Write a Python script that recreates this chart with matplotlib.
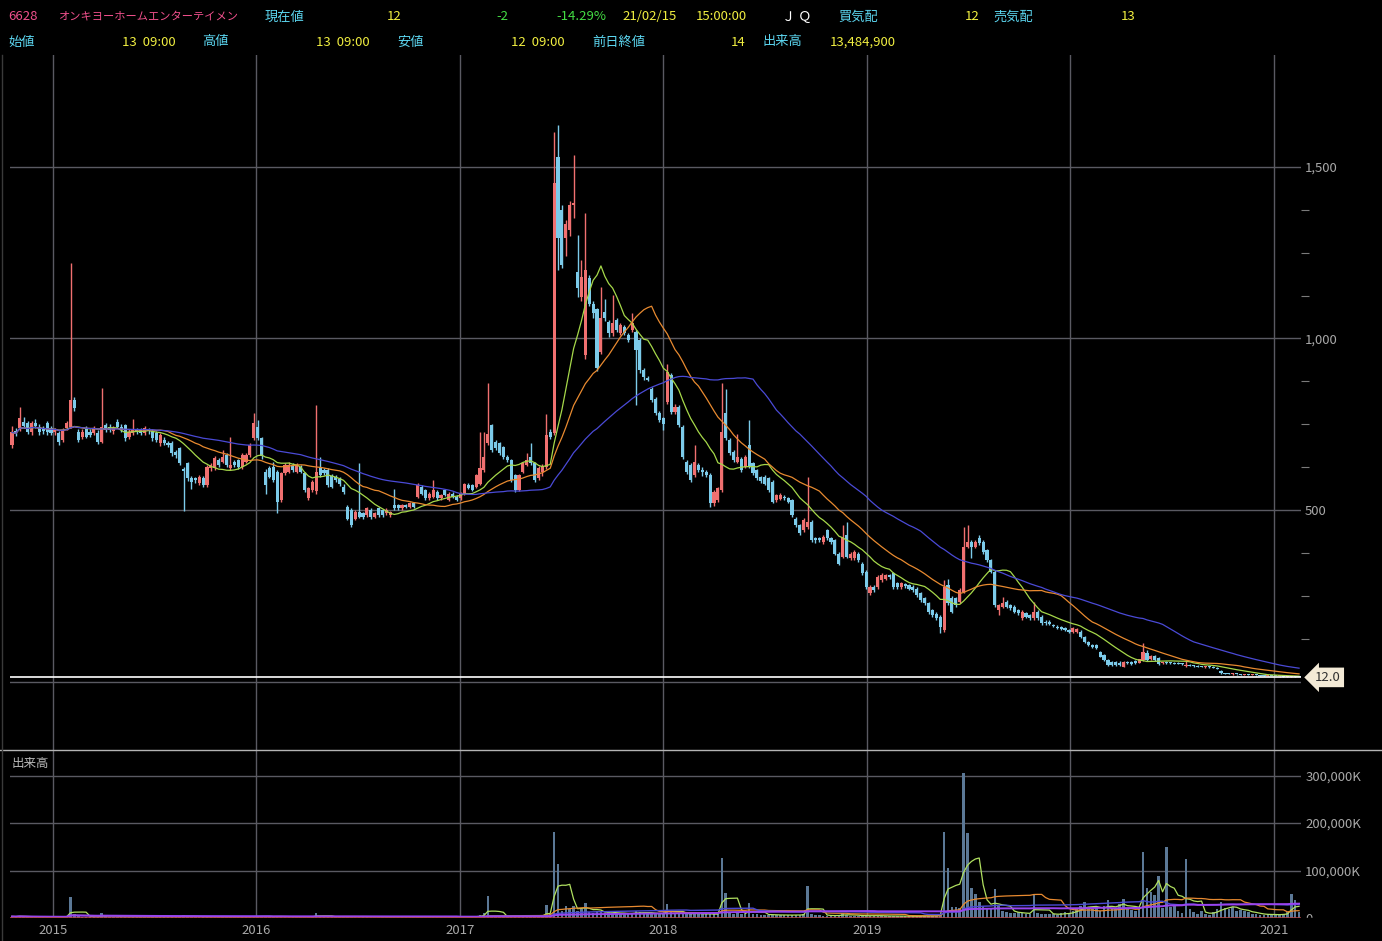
import matplotlib
matplotlib.use('Agg')
import matplotlib.pyplot as plt
import matplotlib.transforms as mtransforms
from matplotlib.patches import Rectangle
from matplotlib.lines import Line2D
import numpy as np
import pandas as pd

plt.rcParams['font.family'] = ['Noto Sans CJK JP', 'DejaVu Sans']

# weekly candles, first week 2014-10-20, last week 2021-02-15
weeks = pd.date_range('2014-10-20', periods=331, freq='W-MON')

opens = [
    690, 729, 738, 758, 753, 728, 755, 743, 738, 753,
    738, 726, 724, 704, 738, 743, 821, 728, 714, 738,
    728, 724, 724, 699, 748, 743, 729, 758, 743, 748,
    714, 724, 733, 733, 724, 733, 729, 724, 694, 704,
    695, 694, 670, 680, 620, 636, 592, 592, 578, 592,
    573, 622, 622, 646, 641, 660, 622, 641, 646, 626,
    641, 660, 709, 743, 709, 612, 622, 626, 612, 529,
    607, 612, 631, 612, 626, 607, 534, 558, 554, 626,
    617, 617, 600, 597, 590, 568, 509, 500, 475, 495,
    490, 485, 500, 480, 505, 500, 490, 485, 514, 514,
    505, 514, 509, 519, 538, 568, 558, 534, 539, 553,
    534, 558, 529, 548, 539, 534, 548, 573, 573, 568,
    577, 616, 694, 748, 699, 694, 684, 655, 645, 602,
    558, 611, 631, 655, 636, 592, 611, 626, 728, 724,
    1530, 1374, 1292, 1316, 1389, 1195, 1122, 952, 1175, 1102,
    1085, 961, 1078, 1049, 1015, 1054, 1015, 1034, 1010, 1025,
    1020, 995, 908, 884, 854, 825, 782, 767, 816, 893,
    786, 801, 743, 640, 631, 602, 631, 616, 612, 602,
    519, 529, 558, 782, 704, 670, 641, 650, 626, 689,
    636, 616, 595, 597, 592, 582, 529, 533, 539, 534,
    529, 475, 456, 441, 451, 466, 417, 417, 407, 441,
    417, 412, 373, 364, 427, 359, 359, 373, 344, 320,
    257, 276, 276, 296, 300, 310, 315, 286, 276, 284,
    281, 276, 271, 257, 242, 228, 208, 198, 189, 150,
    281, 242, 242, 233, 262, 393, 408, 393, 417, 408,
    383, 354, 320, 208, 218, 233, 223, 218, 208, 184,
    199, 194, 184, 204, 189, 174, 174, 165, 160, 160,
    155, 150, 145, 145, 145, 131, 116, 106, 106, 87,
    77, 63, 58, 58, 55, 43, 58, 58, 61, 55,
    63, 82, 65, 75, 68, 53, 56, 55, 54, 53,
    52, 44, 48, 46, 45, 44, 43, 44, 42, 40,
    32, 24, 23, 22, 22, 21, 20, 21, 19, 19,
    18, 17, 16, 17, 16, 15, 15, 14, 14, 16,
    13,
]
highs = [
    745, 740, 801, 770, 760, 760, 765, 750, 745, 760,
    745, 740, 730, 740, 760, 1219, 830, 735, 735, 745,
    735, 745, 732, 855, 755, 750, 745, 764, 750, 752,
    735, 764, 740, 740, 745, 740, 735, 730, 725, 712,
    700, 700, 676, 685, 625, 640, 600, 597, 602, 598,
    630, 638, 656, 652, 675, 665, 714, 646, 650, 665,
    666, 695, 782, 762, 714, 620, 628, 641, 616, 612,
    636, 641, 636, 636, 631, 612, 568, 588, 806, 655,
    622, 622, 605, 602, 596, 575, 515, 505, 500, 636,
    495, 510, 505, 495, 510, 504, 505, 498, 560, 518,
    518, 518, 522, 524, 578, 572, 562, 552, 587, 557,
    547, 562, 552, 553, 543, 552, 580, 578, 577, 605,
    728, 728, 869, 752, 703, 698, 688, 660, 650, 606,
    606, 640, 665, 694, 640, 628, 634, 781, 735, 1603,
    1622, 1390, 1345, 1400, 1535, 1301, 1230, 1365, 1185, 1110,
    1090, 1151, 1114, 1055, 1127, 1060, 1045, 1040, 1015, 1073,
    1025, 1000, 915, 890, 860, 830, 788, 772, 927, 898,
    808, 806, 748, 645, 636, 689, 636, 625, 616, 607,
    558, 568, 869, 854, 709, 675, 723, 655, 660, 762,
    641, 620, 600, 601, 596, 586, 548, 550, 544, 538,
    533, 480, 460, 476, 597, 470, 421, 420, 426, 446,
    421, 416, 377, 456, 466, 378, 382, 378, 348, 324,
    281, 281, 310, 315, 314, 314, 319, 290, 291, 288,
    285, 280, 275, 261, 246, 232, 212, 202, 193, 296,
    300, 250, 247, 272, 451, 456, 412, 412, 427, 412,
    387, 358, 324, 226, 247, 237, 227, 222, 212, 208,
    203, 198, 233, 208, 193, 178, 178, 168, 164, 163,
    158, 153, 158, 156, 149, 134, 119, 109, 109, 90,
    80, 66, 61, 60, 59, 60, 61, 60, 63, 67,
    113, 92, 77, 78, 70, 58, 60, 57, 57, 56,
    55, 62, 50, 48, 47, 46, 46, 45, 44, 42,
    34, 26, 25, 24, 23, 23, 22, 22, 21, 20,
    19, 18, 18, 17, 17, 16, 16, 15, 17, 17,
    13,
]
lows = [
    680, 715, 730, 740, 722, 720, 738, 718, 722, 720,
    718, 720, 690, 698, 732, 738, 790, 698, 708, 710,
    712, 718, 692, 694, 728, 728, 722, 738, 728, 700,
    708, 718, 722, 718, 718, 722, 700, 698, 688, 690,
    684, 658, 652, 630, 496, 585, 560, 578, 572, 566,
    568, 615, 616, 626, 636, 625, 616, 626, 620, 620,
    636, 655, 704, 704, 650, 548, 592, 582, 490, 524,
    602, 607, 612, 607, 607, 553, 529, 553, 548, 597,
    602, 568, 563, 583, 570, 548, 470, 451, 470, 476,
    475, 480, 475, 476, 480, 480, 486, 480, 500, 500,
    500, 505, 505, 505, 534, 544, 530, 530, 535, 530,
    530, 540, 525, 535, 525, 530, 544, 560, 555, 564,
    573, 612, 690, 670, 676, 660, 650, 640, 582, 553,
    554, 607, 627, 632, 582, 588, 600, 620, 708, 720,
    1200, 1205, 1240, 1300, 1350, 1120, 1110, 940, 1095, 1060,
    905, 955, 1050, 1005, 1008, 1020, 1010, 1010, 990, 1020,
    806, 900, 880, 875, 815, 778, 758, 733, 810, 780,
    780, 742, 650, 606, 582, 597, 611, 600, 597, 508,
    512, 524, 553, 704, 660, 641, 636, 611, 621, 621,
    602, 588, 580, 572, 553, 519, 524, 528, 530, 520,
    480, 451, 427, 436, 446, 407, 405, 406, 402, 412,
    402, 368, 339, 359, 359, 354, 354, 349, 310, 270,
    252, 262, 271, 291, 296, 300, 271, 271, 271, 274,
    266, 262, 247, 232, 223, 198, 189, 180, 140, 145,
    222, 200, 218, 228, 257, 388, 360, 388, 398, 373,
    349, 315, 218, 195, 213, 213, 208, 199, 194, 180,
    185, 180, 180, 180, 165, 166, 164, 158, 152, 149,
    147, 142, 142, 142, 128, 113, 103, 99, 94, 70,
    60, 45, 46, 46, 46, 41, 51, 49, 51, 53,
    61, 60, 62, 61, 49, 50, 52, 51, 51, 50,
    48, 43, 44, 43, 42, 41, 40, 40, 39, 36,
    23, 22, 21, 20, 20, 19, 19, 18, 18, 17,
    16, 16, 15, 15, 15, 14, 14, 13, 13, 13,
    12,
]
closes = [
    726, 721, 767, 745, 728, 753, 745, 726, 729, 726,
    724, 733, 699, 733, 753, 821, 797, 704, 728, 714,
    719, 738, 699, 743, 733, 733, 738, 743, 733, 709,
    728, 733, 729, 724, 738, 729, 709, 704, 719, 695,
    690, 665, 660, 636, 615, 592, 583, 586, 597, 573,
    626, 632, 651, 631, 655, 631, 631, 631, 626, 660,
    660, 690, 753, 709, 656, 573, 597, 588, 524, 607,
    631, 631, 617, 631, 612, 558, 563, 583, 612, 602,
    607, 573, 568, 588, 575, 553, 475, 456, 495, 480,
    480, 505, 480, 490, 485, 485, 500, 495, 505, 505,
    514, 509, 519, 509, 573, 548, 534, 548, 558, 534,
    543, 543, 548, 539, 529, 548, 577, 563, 558, 602,
    621, 655, 723, 675, 680, 665, 655, 645, 587, 558,
    602, 636, 645, 636, 587, 621, 626, 718, 713, 1452,
    1292, 1214, 1335, 1389, 1394, 1146, 1180, 1199, 1102, 1073,
    913, 1061, 1059, 1015, 1044, 1025, 1039, 1015, 995, 1044,
    966, 908, 888, 879, 820, 782, 762, 752, 903, 786,
    801, 747, 655, 611, 587, 640, 616, 610, 602, 519,
    553, 563, 728, 709, 665, 646, 655, 616, 655, 626,
    607, 592, 585, 577, 558, 524, 543, 545, 534, 524,
    485, 456, 432, 471, 466, 412, 412, 412, 422, 417,
    407, 373, 344, 422, 364, 373, 378, 354, 315, 276,
    276, 266, 305, 310, 310, 305, 276, 276, 286, 279,
    271, 266, 252, 237, 228, 203, 194, 184, 160, 276,
    228, 204, 223, 267, 393, 408, 393, 408, 403, 378,
    354, 320, 223, 223, 228, 218, 213, 204, 199, 204,
    189, 184, 204, 184, 170, 170, 168, 162, 155, 152,
    150, 145, 155, 152, 131, 116, 106, 102, 97, 72,
    63, 48, 48, 48, 49, 58, 53, 51, 53, 65,
    87, 63, 75, 63, 51, 55, 54, 53, 52, 51,
    50, 48, 45, 44, 43, 42, 44, 41, 40, 37,
    24, 23, 22, 22, 21, 20, 21, 19, 19, 18,
    17, 16, 17, 16, 15, 15, 14, 14, 16, 14,
    12,
]
# weekly volume in thousands of shares
volumes_k = [
    3200, 2800, 4100, 2600, 2300, 2900, 2500, 2200, 2400, 2600,
    2100, 1900, 2800, 2500, 3300, 44800, 8200, 3500, 2600, 2400,
    2200, 2500, 2800, 9800, 3600, 2700, 2300, 2100, 2600, 2400,
    2200, 2800, 2000, 1900, 2300, 2100, 2000, 2400, 2600, 2200,
    2500, 2900, 3200, 3800, 6000, 3500, 2800, 2400, 2600, 2300,
    2700, 2500, 2600, 2400, 2200, 2800, 2100, 2300, 2000, 2200,
    2500, 2700, 5200, 3600, 2900, 3400, 2600, 2800, 4500, 3100,
    2600, 2400, 2200, 2500, 2300, 2700, 2400, 2800, 11000, 3200,
    2500, 2300, 2600, 2400, 2200, 2500, 2900, 3100, 2400, 4000,
    2300, 2100, 2200, 2000, 1900, 2100, 2000, 2200, 2600, 2100,
    2000, 1900, 2100, 2200, 3400, 2600, 2400, 2200, 2900, 2300,
    2100, 2200, 2400, 2300, 2100, 2500, 2800, 2600, 2400, 3500,
    6500, 11000, 46400, 5000, 3200, 2800, 2600, 2400, 3600, 3000,
    3200, 3800, 3500, 4200, 3600, 4000, 5200, 27000, 8000, 181700,
    113700, 15000, 26000, 18000, 25000, 14000, 18000, 32000, 13000, 11000,
    15000, 13000, 10000, 12000, 11000, 9500, 10000, 9000, 8500, 11000,
    14000, 12000, 10000, 9000, 10500, 9500, 8800, 9200, 30000, 12000,
    9000, 8500, 10000, 9500, 8000, 11000, 8500, 7800, 7500, 9000,
    8000, 8500, 125600, 52600, 12000, 9000, 10000, 8000, 8500, 31600,
    9000, 7500, 7000, 6500, 6800, 7200, 6000, 5500, 5800, 6200,
    7000, 6500, 6000, 8000, 67400, 9000, 6500, 5500, 5000, 5200,
    4800, 5500, 6000, 9500, 7000, 5000, 4500, 4200, 4800, 5500,
    5000, 4500, 4800, 4200, 4000, 3800, 4200, 3900, 3600, 3500,
    3800, 3400, 3600, 4200, 3900, 4500, 5000, 4800, 9000, 181000,
    104900, 24000, 24000, 22000, 305900, 179600, 63800, 49700, 32800, 25000,
    20000, 18000, 60300, 25000, 15000, 13000, 11000, 9500, 12000, 10000,
    9000, 8500, 48300, 11000, 9000, 8000, 7500, 8500, 7000, 9500,
    12000, 10000, 15000, 20000, 25000, 33000, 22000, 18000, 24000, 15000,
    26000, 38000, 20000, 18000, 29000, 41000, 22000, 16000, 14000, 20000,
    139600, 62400, 55400, 48400, 89100, 20400, 150100, 24000, 30000, 15000,
    10000, 124200, 18000, 12000, 9000, 15000, 8000, 7000, 12000, 20000,
    34000, 22000, 18000, 24000, 15000, 16000, 14000, 12000, 9000, 8000,
    7000, 6500, 8000, 7500, 6000, 7000, 9000, 12000, 50500, 38000,
    13485,
]

year_labels = ['2015', '2016', '2017', '2018', '2019', '2020', '2021']
price_ticks = [500, 1000, 1500]
price_tick_labels = ['500', '1,000', '1,500']
vol_ticks = [0, 100000, 200000, 300000]
vol_tick_labels = ['0', '100,000K', '200,000K', '300,000K']
last_price = 12

RED = '#f07070'
BLUE = '#7ccbea'
GRID = '#5a5a62'
LABEL = '#a8a8a8'

W, H = 1382, 941
fig = plt.figure(figsize=(W / 100, H / 100), dpi=100, facecolor='black')


def fx(px):
    return px / W


def fy(py):
    return 1 - py / H


ax = fig.add_axes([fx(10), fy(750), fx(1301) - fx(10), fy(55) - fy(750)], facecolor='black')
axv = fig.add_axes([fx(10), fy(918), fx(1301) - fx(10), fy(750) - fy(918)], facecolor='black')

x = np.arange(len(weeks))
year_pos = [(pd.Timestamp(y + '-01-01') - weeks[0]).days / 7 for y in year_labels]

o = np.array(opens, dtype=float)
h = np.array(highs, dtype=float)
l = np.array(lows, dtype=float)
c = np.array(closes, dtype=float)
cols = np.where(c >= o, RED, BLUE)

# grid
for p in [0] + price_ticks:
    ax.axhline(p, color=GRID, lw=1, zorder=0)
for yp in year_pos:
    ax.axvline(yp, color=GRID, lw=1, zorder=0)
    axv.axvline(yp, color=GRID, lw=1, zorder=0)

# candles
ax.vlines(x, l, h, colors=cols, lw=1, zorder=2)
ax.bar(x, np.maximum(np.abs(c - o), 3), bottom=np.minimum(o, c), width=0.8,
       color=cols, linewidth=0, zorder=3)

# 13 / 26 / 52 week moving averages
cs = pd.Series(closes, dtype=float)
ax.plot(x, cs.rolling(13, min_periods=1).mean(), color='#a6d84a', lw=0.9, zorder=4)
ax.plot(x, cs.rolling(26, min_periods=1).mean(), color='#e88a30', lw=0.9, zorder=4)
ax.plot(x, cs.rolling(52, min_periods=1).mean(), color='#4a4ad6', lw=0.9, zorder=4)

ax.axhline(last_price, color='white', lw=1.2, zorder=5)
trans = mtransforms.blended_transform_factory(ax.transAxes, ax.transData)
ax.text(1.0 + 14 / 1291, last_price, '%.1f' % last_price, transform=trans, ha='left', va='center',
        fontsize=9.5, color='#303030', zorder=6,
        bbox=dict(boxstyle='larrow,pad=0.25', fc='#f3ead6', ec='none'))

ax.set_xlim(-0.513, 330.5)
ax.set_ylim(-199.7, 1826.5)
ax.yaxis.tick_right()
ax.set_yticks(price_ticks)
ax.set_yticklabels(price_tick_labels)
ax.set_yticks([125, 250, 375, 625, 750, 875, 1125, 1250, 1375], minor=True)
ax.tick_params(axis='y', which='major', length=0, pad=3, labelcolor=LABEL, labelsize=9.5)
ax.tick_params(axis='y', which='minor', length=6, width=0.8, color='#7a7a7a', direction='out')
ax.tick_params(axis='x', which='both', bottom=False, labelbottom=False)
for s in ax.spines.values():
    s.set_visible(False)

# volume panel
axv.bar(x, volumes_k, width=0.65, color='#5b7896', linewidth=0, zorder=2)
vs = pd.Series(volumes_k, dtype=float)
axv.plot(x, vs.rolling(5, min_periods=1).mean(), color='#b0e060', lw=0.9, zorder=3)
axv.plot(x, vs.rolling(26, min_periods=1).mean(), color='#e88a30', lw=0.9, zorder=3)
axv.plot(x, vs.rolling(52, min_periods=1).mean(), color='#4a4ad6', lw=1.0, zorder=3)
axv.plot(x, vs.rolling(100, min_periods=1).mean(), color='#9a44f0', lw=1.4, zorder=3)
for v in vol_ticks[1:]:
    axv.axhline(v, color=GRID, lw=1, zorder=0)
axv.axhline(0, color='#b04848', lw=1.2, zorder=4)

axv.set_xlim(-0.513, 330.5)
axv.set_ylim(0, 353700)
axv.yaxis.tick_right()
axv.set_yticks(vol_ticks)
axv.set_yticklabels(vol_tick_labels)
axv.tick_params(axis='y', length=0, pad=3, labelcolor=LABEL, labelsize=9.5)
axv.set_xticks(year_pos)
axv.set_xticklabels(year_labels)
axv.tick_params(axis='x', length=0, pad=4, labelcolor=LABEL, labelsize=9.5)
for s in axv.spines.values():
    s.set_visible(False)

fig.text(fx(12), fy(764), '出来高', color='#b8b8b8', fontsize=9, ha='left', va='center')

# hide lower half of the "0" volume label, panel separator
fig.add_artist(Rectangle((fx(1300), 0), 1 - fx(1300), fy(918), transform=fig.transFigure,
                         color='black', zorder=10))
fig.add_artist(Line2D([0, 1], [fy(750), fy(750)], color='#b4b4b4', lw=1, transform=fig.transFigure))
fig.add_artist(Line2D([fx(1.5), fx(1.5)], [0, fy(55)], color='#3a3a3a', lw=1, transform=fig.transFigure))

# quote header
PINK = '#f0508c'
CYAN = '#5cd6f0'
YELLOW = '#f0ee40'
GREEN = '#44dd44'
header = [
    (8, 17, '6628', PINK), (58, 17, 'オンキヨーホームエンターテイメン', PINK),
    (265, 17, '現在値', CYAN), (387, 17, '12', YELLOW), (496, 17, '-2', GREEN),
    (556, 17, '-14.29%', GREEN), (622, 17, '21/02/15', YELLOW), (696, 17, '15:00:00', YELLOW),
    (782, 17, 'Ｊ Ｑ', 'white'), (838, 17, '買気配', CYAN), (965, 17, '12', YELLOW),
    (993, 17, '売気配', CYAN), (1121, 17, '13', YELLOW),
    (8, 42, '始値', CYAN), (122, 42, '13  09:00', YELLOW), (202, 42, '高値', CYAN),
    (316, 42, '13  09:00', YELLOW), (397, 42, '安値', CYAN), (511, 42, '12  09:00', YELLOW),
    (592, 42, '前日終値', CYAN), (731, 42, '14', YELLOW), (762, 42, '出来高', CYAN),
    (830, 42, '13,484,900', YELLOW),
]
for hx, hy, txt, col in header:
    size = 8.1 if txt.startswith('オ') else 9.5
    fig.text(fx(hx), fy(hy), txt, color=col, fontsize=size, ha='left', va='center')

fig.savefig('out.png', dpi=100, facecolor='black')
